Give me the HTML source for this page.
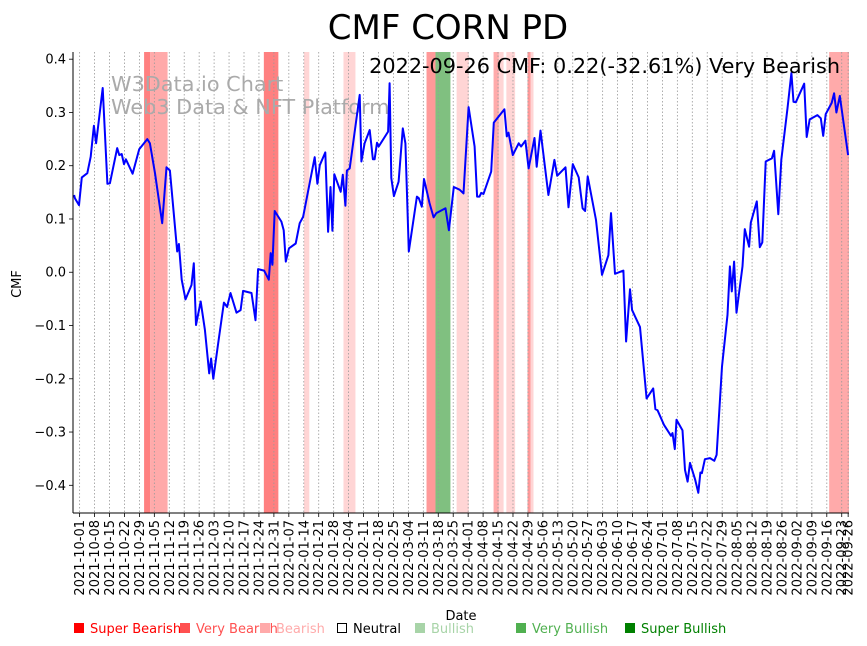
<!DOCTYPE html>
<html><head><meta charset="utf-8">
<style>
body{margin:0;background:#fff;}
svg{display:block;font-family:"DejaVu Sans","Liberation Sans",sans-serif;}
</style></head>
<body>
<svg id="chart" width="867" height="646" viewBox="0 0 867 646" xmlns="http://www.w3.org/2000/svg">
<text x="448" y="39" font-size="34" text-anchor="middle" fill="#000">CMF CORN PD</text>
<g id="bands"></g>
<g id="grid"></g>
<g id="watermark" fill="#aaa" font-size="20.8">
<text x="111" y="91">W3Data.io Chart</text>
<text x="111" y="114">Web3 Data &amp; NFT Platform</text>
</g>
<path id="line" fill="none" stroke="#0000ff" stroke-width="2" stroke-linejoin="round"></path>
<text x="840" y="73" font-size="20.8" text-anchor="end" fill="#000">2022-09-26 CMF: 0.22(-32.61%) Very Bearish</text>
<g id="axes"></g>
<text transform="translate(21,284) rotate(-90)" font-size="13" text-anchor="middle">CMF</text>
<text x="461" y="620" font-size="13" text-anchor="middle">Date</text>
<g id="legend" font-size="13"></g>
</svg>
<script>
// days since 2021-10-01
const days=[-2.6,-2.2,-0.3,1.0,3.6,5.2,6.7,7.7,10.8,13.0,14.2,17.6,18.6,19.7,20.8,21.7,24.8,27.9,31.7,32.9,35.3,38.7,40.7,42.3,45.7,46.5,47.8,49.6,52.4,53.5,54.5,56.7,58.7,60.7,61.6,62.6,64.9,67.6,69.1,70.7,73.5,75.4,76.6,80.5,82.4,83.6,86.4,88.6,89.5,90.3,91.4,94.5,95.6,96.6,98.1,101.2,103.1,104.7,110.1,111.4,112.5,115.1,116.4,117.5,118.4,119.3,122.3,123.3,124.5,125.2,126.5,131.2,132.0,133.5,135.9,137.4,138.2,139.3,140.1,144.5,145.2,146.0,147.2,149.4,151.4,152.6,154.2,158.0,158.9,160.3,161.3,163.9,165.8,167.1,171.4,173.0,175.3,178.0,179.8,182.2,185.0,186.2,187.3,188.1,189.2,192.8,194.0,199.0,200.1,200.9,202.9,205.7,206.8,208.8,210.3,213.1,214.1,215.9,219.6,222.4,223.7,227.6,229.0,231.0,233.8,235.6,236.8,238.0,241.9,244.7,247.7,248.9,250.8,254.7,256.0,257.8,258.8,262.5,265.6,268.7,269.7,270.7,273.8,277.0,277.7,278.8,279.6,282.4,283.6,284.8,285.9,288.3,289.8,290.8,291.5,292.9,295.3,297.3,298.4,300.9,303.5,304.6,305.5,306.6,307.7,310.5,311.6,313.6,314.4,317.2,318.6,319.8,321.4,324.3,325.3,327.3,328.7,331.6,333.4,334.4,335.5,339.4,340.6,342.0,345.6,347.2,348.3,349.5,352.3,353.4,354.5,356.1,360];
const cmf=[0.145,0.139,0.126,0.178,0.186,0.217,0.275,0.242,0.346,0.166,0.167,0.233,0.220,0.222,0.203,0.212,0.185,0.231,0.250,0.242,0.186,0.092,0.197,0.191,0.039,0.053,-0.014,-0.051,-0.024,0.017,-0.099,-0.055,-0.108,-0.190,-0.162,-0.200,-0.133,-0.057,-0.065,-0.039,-0.076,-0.071,-0.035,-0.039,-0.090,0.006,0.003,-0.014,0.036,0.014,0.115,0.095,0.079,0.020,0.045,0.054,0.092,0.104,0.216,0.166,0.201,0.225,0.076,0.160,0.078,0.184,0.151,0.183,0.125,0.191,0.195,0.333,0.208,0.242,0.267,0.212,0.212,0.243,0.236,0.264,0.355,0.177,0.143,0.170,0.270,0.242,0.039,0.142,0.139,0.123,0.175,0.130,0.103,0.111,0.120,0.079,0.160,0.155,0.148,0.310,0.236,0.142,0.142,0.149,0.147,0.189,0.281,0.306,0.255,0.262,0.220,0.242,0.236,0.247,0.195,0.252,0.198,0.266,0.145,0.211,0.181,0.197,0.122,0.203,0.178,0.120,0.115,0.180,0.098,-0.005,0.032,0.111,-0.003,0.003,-0.130,-0.032,-0.071,-0.103,-0.237,-0.218,-0.257,-0.259,-0.287,-0.307,-0.302,-0.332,-0.277,-0.297,-0.371,-0.393,-0.358,-0.389,-0.414,-0.376,-0.377,-0.351,-0.349,-0.354,-0.343,-0.177,-0.080,0.011,-0.036,0.020,-0.076,0.011,0.081,0.048,0.093,0.133,0.047,0.056,0.208,0.214,0.228,0.109,0.211,0.308,0.374,0.320,0.319,0.354,0.254,0.287,0.295,0.289,0.256,0.297,0.318,0.336,0.300,0.331,0.220];
const bandStart=[30.2,33.0,86.3,105.1,123.6,162.5,166.7,176.6,193.9,196.4,199.9,209.8,211.2,351.1];
const bandEnd=[33.0,41.2,93.1,107.6,129.2,166.7,173.7,182.3,196.4,198.6,204.0,211.2,212.6,360.4];
const bandType=["vbear","bear2","vbear","bear","bear","vbear2","vbull","bear","bear2","bear","bear","vbear2","bear","bear2"];
const yTicks=[0.4,0.3,0.2,0.1,0.0,-0.1,-0.2,-0.3,-0.4];
const legendLabels=["Super Bearish","Very Bearish","Bearish","Neutral","Bullish","Very Bullish","Super Bullish"];
const legendColors=["#ff0000","#ff5050","#ffaaaa","none","#a8d4a8","#50b050","#008000"];

const NS="http://www.w3.org/2000/svg";
const X0=73,X1=849,Y0=52,Y1=513,DMIN=-3.1,DMAX=360.4,VMAX=0.4135,VMIN=-0.452;
const xs=d=>X0+(d-DMIN)/(DMAX-DMIN)*(X1-X0);
const ys=v=>Y0+(VMAX-v)/(VMAX-VMIN)*(Y1-Y0);
const bandColor={vbear:"#ff8080",vbear2:"#ff9999",bear2:"#ffaaaa",bear:"#ffd5d5",vbull:"#80c080"};
function mk(tag,attrs,parent){const e=document.createElementNS(NS,tag);for(const k in attrs)e.setAttribute(k,attrs[k]);parent.appendChild(e);return e;}

const bg=document.getElementById('bands');
for(let i=0;i<bandStart.length;i++){
  const r=mk('rect',{x:xs(bandStart[i]),y:Y0,width:xs(bandEnd[i])-xs(bandStart[i]),height:Y1-Y0,fill:bandColor[bandType[i]]},bg);
  
  
}
const tickDays=[];for(let d=0;d<=357;d+=7)tickDays.push(d);tickDays.push(360);
const base=Date.UTC(2021,9,1);
function lab(d){const t=new Date(base+d*864e5);return t.toISOString().slice(0,10);}
const gg=document.getElementById('grid'),ax=document.getElementById('axes');
tickDays.forEach(d=>{
  const x=xs(d);
  const g=mk('line',{x1:x,x2:x,y1:Y0,y2:Y1,stroke:"#999","stroke-width":0.8,"stroke-dasharray":"1.5,2"},gg);
  
  
  const tk=mk('line',{x1:x,x2:x,y1:Y1,y2:Y1+4,stroke:"#000","stroke-width":0.8},ax);
  
  
  const t=mk('text',{transform:`translate(${x+4.5},${Y1+7}) rotate(-90)`,"font-size":13,"text-anchor":"end"},ax);
  t.textContent=lab(d);
  
  
});
yTicks.forEach(v=>{
  const y=ys(v);
  const tk=mk('line',{x1:X0-4,x2:X0,y1:y,y2:y,stroke:"#000","stroke-width":0.8},ax);
  
  
  const t=mk('text',{x:X0-7,y:y+4.5,"font-size":13,"text-anchor":"end"},ax);
  t.textContent=(v<0?"\u2212":"")+Math.abs(v).toFixed(1);
  
  
});
const sp1=mk('line',{x1:X0,x2:X0,y1:Y0,y2:Y1,stroke:"#000","stroke-width":1},ax);


const sp2=mk('line',{x1:X0,x2:X1,y1:Y1,y2:Y1,stroke:"#000","stroke-width":1},ax);



let p="";for(let i=0;i<days.length;i++)p+=(i?"L":"M")+xs(days[i]).toFixed(1)+","+ys(cmf[i]).toFixed(1);
document.getElementById('line').setAttribute('d',p);

const lg=document.getElementById('legend');
const lx=[73,179,259,336,414,515,624];
legendLabels.forEach((l,i)=>{
  const g=mk('g',{},lg);
  
  
  if(legendColors[i]==="none")mk('rect',{x:lx[i]+1.5,y:623.5,width:9,height:9,fill:"none",stroke:"#000","stroke-width":1},g);
  else mk('rect',{x:lx[i]+1,y:623,width:10,height:10,fill:legendColors[i]},g);
  const t=mk('text',{x:lx[i]+17,y:633,fill:legendColors[i]==="none"?"#000":legendColors[i]},g);
  t.textContent=l;
});
</script>
</body></html>
